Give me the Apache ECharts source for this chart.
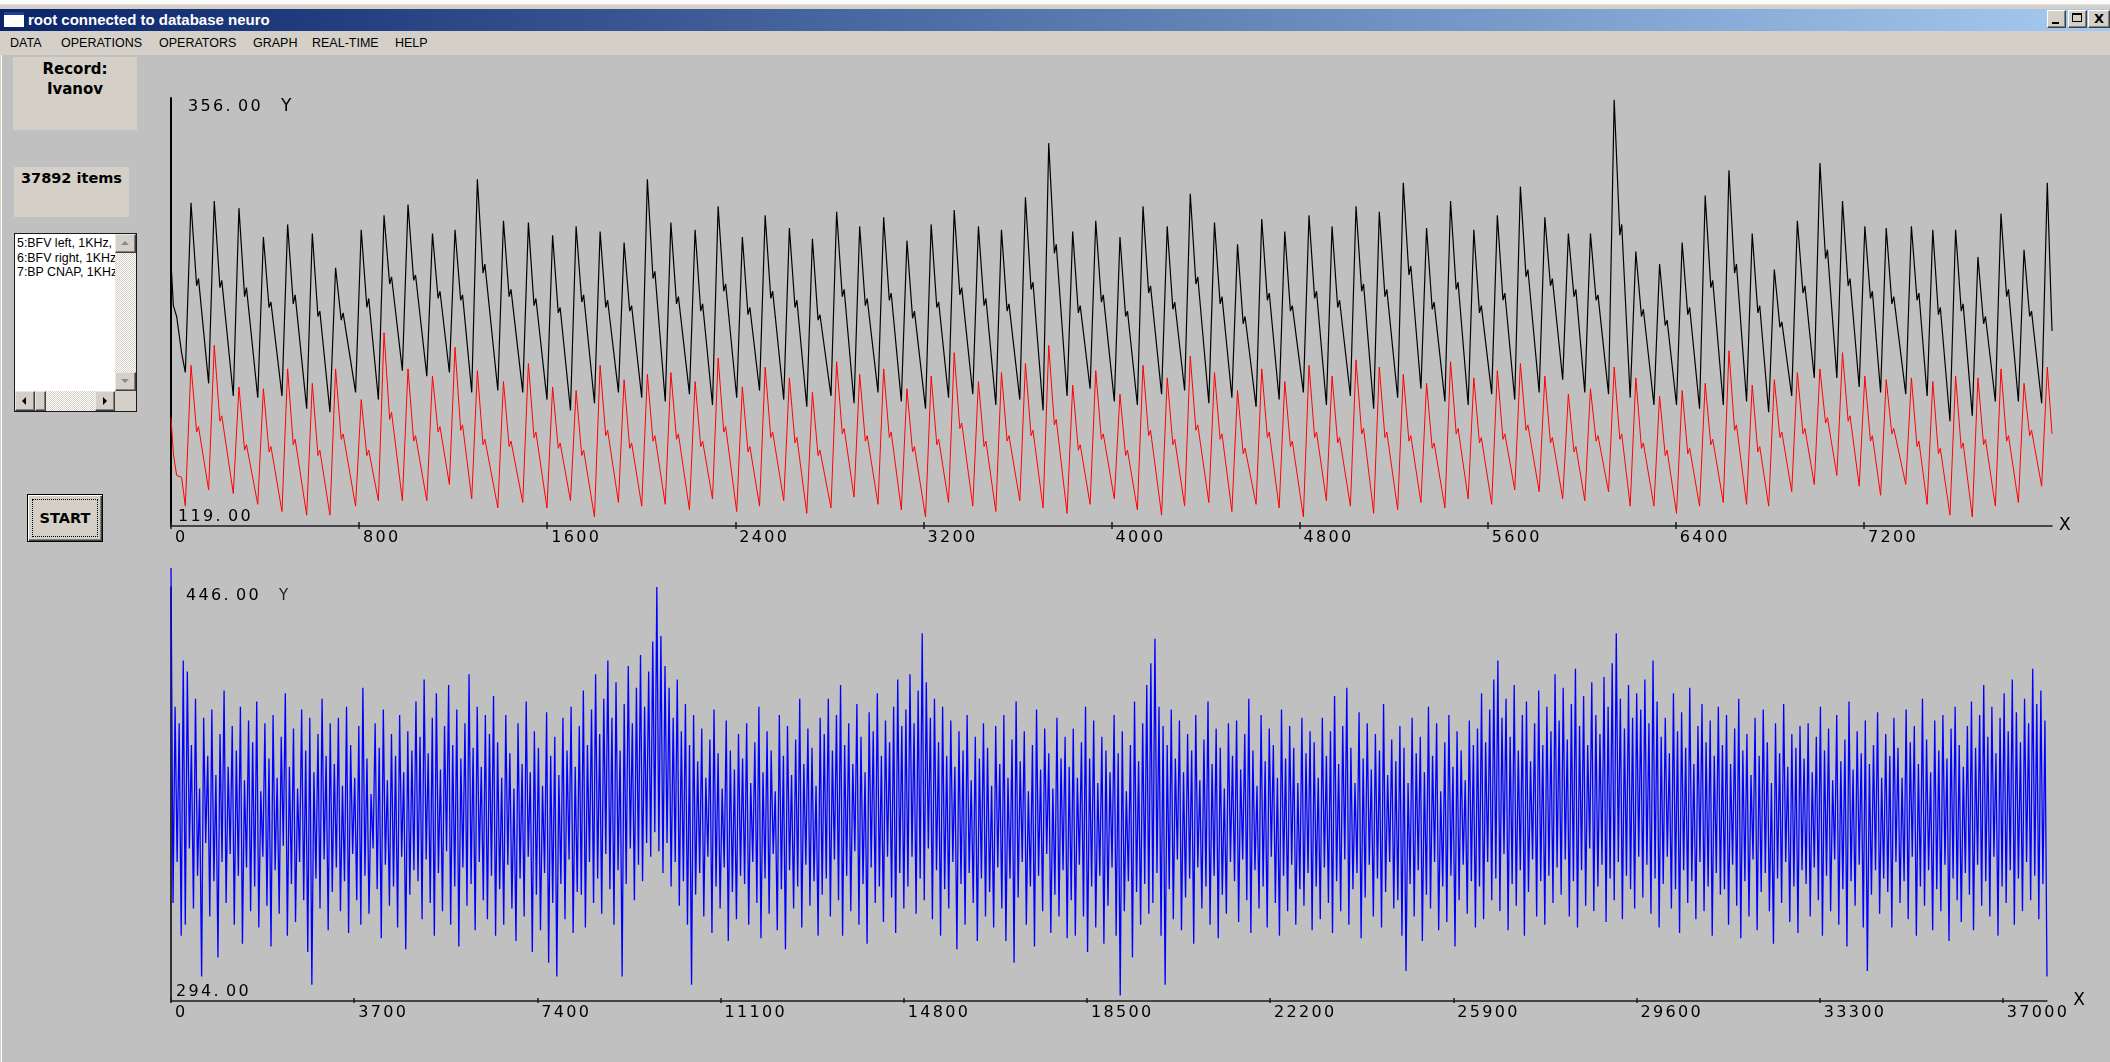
<!DOCTYPE html>
<html>
<head>
<meta charset="utf-8">
<script src="https://cdn.jsdelivr.net/npm/echarts@6/dist/echarts.min.js"></script>
<style>
html,body{margin:0;padding:0;}
body{width:2110px;height:1062px;background:#c0c0c0;position:relative;overflow:hidden;font-family:"Liberation Sans",Arial,sans-serif;}
#chart{position:absolute;left:0;top:0;width:2110px;height:1062px;z-index:1;}
.ui{position:absolute;z-index:2;box-sizing:border-box;}
.frame-top{left:0;top:0;width:2110px;height:9px;background:linear-gradient(#fbfbfb 0,#fbfbfb 4px,#d4d0c8 5px);}
.titlebar{left:0;top:9px;width:2110px;height:22px;background:linear-gradient(to right,#0a246a 0%,#a6caf0 100%);}
.ticon{position:absolute;left:4px;top:3px;width:20px;height:15px;background:#fff;border-top:3px solid #1c3f94;box-sizing:border-box;}
.ttext{position:absolute;left:28px;top:0;font:bold 15px/22px "Liberation Sans",Arial,sans-serif;color:#fff;white-space:nowrap;}
.wbtn{top:10px;height:18px;background:#d4d0c8;border:1px solid;border-color:#fff #404040 #404040 #fff;box-shadow:inset -1px -1px #808080;}
.g-min{position:absolute;left:4px;bottom:3px;width:7px;height:2px;background:#000;}
.g-max{position:absolute;left:3px;top:2px;width:10px;height:9px;border:1px solid #000;border-top-width:2px;box-sizing:border-box;}
.g-x{position:absolute;left:0;top:0;width:100%;text-align:center;font:bold 13px/16px "DejaVu Sans",sans-serif;color:#000;}
.menubar{left:0;top:31px;width:2110px;height:24px;background:#d4d0c8;}
.menubar span{position:absolute;top:0;line-height:24px;font-size:12.5px;color:#000;white-space:nowrap;}
.panel{background:#d4d0c8;text-align:center;font:bold 15px "DejaVu Sans",sans-serif;color:#000;}
.listbox{left:14px;top:233px;width:123px;height:179px;background:#fff;border:1px solid #1a1a1a;overflow:hidden;}
.listbox .txt{position:absolute;left:2px;top:2px;width:98px;overflow:hidden;font-size:12.4px;line-height:14.5px;color:#000;white-space:nowrap;}
.sb{position:absolute;box-sizing:border-box;}
.track{background-color:#fff;background-image:repeating-conic-gradient(#d4d0c8 0 25%,#fff 0 50%);background-size:2px 2px;}
.raised{background:#d4d0c8;border:1px solid;border-color:#e8e6e0 #404040 #404040 #e8e6e0;box-shadow:inset -1px -1px #808080;}
.tri{position:absolute;width:0;height:0;border-style:solid;}
.startbtn{left:27px;top:494px;width:76px;height:48px;background:#d4d0c8;border:1px solid #000;box-shadow:inset 1px 1px #fff,inset -1px -1px #404040,inset -2px -2px #808080;}
.startbtn .focus{position:absolute;left:4px;top:4px;right:4px;bottom:4px;border:1px dotted #000;}
.startbtn .lbl{position:absolute;left:0;top:0;width:100%;text-align:center;font:bold 14.5px/46px "DejaVu Sans",sans-serif;color:#000;}
.leftedge{left:0;top:55px;width:3px;height:1007px;background:linear-gradient(to right,#d4d0c8 0,#d4d0c8 1px,#fff 1px,#fff 2px,#c0c0c0 2px);}
</style>
</head>
<body>
<div class="ui frame-top"></div>
<div class="ui titlebar"><div class="ticon"></div><div class="ttext">root connected to database neuro</div></div>
<div class="ui wbtn" style="left:2047px;width:19px"><div class="g-min"></div></div>
<div class="ui wbtn" style="left:2068px;width:19px"><div class="g-max"></div></div>
<div class="ui wbtn" style="left:2088px;width:22px"><span class="g-x">X</span></div>
<div class="ui menubar">
  <span style="left:10px">DATA</span>
  <span style="left:61px">OPERATIONS</span>
  <span style="left:159px">OPERATORS</span>
  <span style="left:253px">GRAPH</span>
  <span style="left:312px">REAL-TIME</span>
  <span style="left:395px">HELP</span>
</div>
<div class="ui leftedge"></div>
<div class="ui panel" style="left:13px;top:57px;width:124px;height:73px;padding-top:2px;line-height:20px;">Record:<br>Ivanov</div>
<div class="ui panel" style="left:14px;top:167px;width:115px;height:50px;font-size:14.5px;line-height:22px;">37892 items</div>
<div class="ui listbox">
  <div class="txt">5:BFV left, 1KHz,<br>6:BFV right, 1KHz,<br>7:BP CNAP, 1KHz,</div>
  <div class="sb track" style="left:100px;top:0;width:21px;height:157px;"></div>
  <div class="sb raised" style="left:100px;top:0;width:21px;height:19px;"><div class="tri" style="left:5px;top:6px;border-width:0 4px 4px 4px;border-color:transparent transparent #8a8a8a transparent;"></div></div>
  <div class="sb raised" style="left:100px;top:138px;width:21px;height:19px;"><div class="tri" style="left:5px;top:6px;border-width:4px 4px 0 4px;border-color:#8a8a8a transparent transparent transparent;"></div></div>
  <div class="sb track" style="left:0;top:157px;width:100px;height:20px;"></div>
  <div class="sb raised" style="left:0;top:157px;width:20px;height:20px;"><div class="tri" style="left:6px;top:5px;border-width:4px 4px 4px 0;border-color:transparent #000 transparent transparent;"></div></div>
  <div class="sb raised" style="left:20px;top:157px;width:11px;height:20px;"></div>
  <div class="sb raised" style="left:80px;top:157px;width:20px;height:20px;"><div class="tri" style="left:7px;top:5px;border-width:4px 0 4px 4px;border-color:transparent transparent transparent #000;"></div></div>
  <div class="sb" style="left:100px;top:157px;width:21px;height:20px;background:#d4d0c8;"></div>
</div>
<div class="ui startbtn"><div class="focus"></div><div class="lbl">START</div></div>
<div id="chart"></div>
<script>
// ---- axes ----
const topTicks = [0, 800, 1600, 2400, 3200, 4000, 4800, 5600, 6400, 7200];
const bottomTicks = [0, 3700, 7400, 11100, 14800, 18500, 22200, 25900, 29600, 33300, 37000];
const topRange = [119, 356];
const bottomRange = [294, 446];
const topSpan = 8000;
const itemCount = 37892;

// ---- BFV traces (upper plot): one row per heart beat ----
// sample index of each beat foot (diastolic minimum)
const beatOnsets = [
  61,160,265,369,472,577,676,785,882,984,1088,1184,1279,1390,1496,1599,1699,1801,1903,2002,
  2102,2205,2303,2406,2503,2606,2704,2807,2905,3007,3106,3209,3307,3410,3508,3610,3709,3811,3909,4012,
  4110,4213,4311,4414,4512,4615,4713,4816,4914,5016,5115,5217,5316,5418,5517,5617,
  5715,5819,5919,6013,6114,6206,6307,6403,6501,6602,6701,6795,6893,6989,7085,7180,7271,7378,7469,7566,
  7661,7759,7857,7956
];
const RISE = 24;       // samples from foot to systolic peak
const NOTCH_LAG = 24;  // samples from systolic peak to dicrotic notch
const BUMP_LAG = 32;   // samples from systolic peak to the dicrotic wave

const leftTrough = [
  204,198,191,190,191,184,182,193,189,205,202,204,193,194,193,189,183,187,193,190,
  188,192,186,190,194,189,185,191,187,193,188,184,190,192,186,189,183,191,195,188,
  186,192,194,187,190,185,189,193,186,191,184,190,195,188,186,192,
  189,193,200,193,192,190,186,186,184,186,188,182,191,201,201,196,193,192,191,177,
  180,188,188,187
];
const leftPeak = [
  298,299,295,279,286,281,262,283,291,297,281,283,311,288,287,280,285,282,276,311,
  287,283,296,279,291,284,278,293,285,290,277,286,294,285,283,301,331,282,288,279,
  296,285,303,287,275,289,282,291,285,296,293,309,284,299,283,291,
  307,290,281,281,355,271,264,276,302,316,281,261,288,320,299,285,284,285,283,283,
  268,292,272,309
];
const leftNotch = [
  252,251,246,240,242,235,233,240,253,255,245,244,259,246,241,237,243,240,238,256,
  242,238,249,236,245,240,233,246,241,244,234,240,247,241,238,250,270,237,243,235,
  248,239,253,242,231,244,238,245,240,249,246,258,239,250,237,244,
  257,252,246,244,280,235,230,236,251,259,237,229,248,267,252,245,242,244,236,238,
  231,246,235,258
];
const leftBump = [
  256,255,251,243,247,238,237,245,257,258,249,247,264,250,245,240,247,244,241,260,
  246,242,253,240,249,244,236,250,245,248,238,243,251,245,242,254,275,241,247,238,
  252,243,257,246,235,248,241,249,244,253,250,263,243,254,241,248,
  261,256,250,247,286,239,233,240,255,264,241,232,252,272,256,249,246,248,240,242,
  235,250,238,262
];
const rightTrough = [
  130,139,137,131,127,125,125,130,133,133,133,142,134,129,132,129,133,124,132,130,
  131,128,134,127,130,133,126,129,135,131,128,124,132,130,127,133,129,126,131,134,
  128,125,130,132,127,131,129,124,133,130,126,128,132,129,134,131,
  139,138,134,133,138,130,130,126,130,132,131,130,138,142,147,141,136,142,131,125,
  124,130,132,141
];
const rightPeak = [
  208,219,196,195,206,198,206,189,226,206,202,218,205,199,209,196,194,208,200,203,
  204,199,212,196,207,201,193,210,203,206,195,202,215,199,204,209,219,197,205,192,
  208,201,213,204,194,206,199,208,202,211,207,203,198,210,201,205,
  209,202,192,195,207,201,191,194,198,216,197,200,204,206,215,202,200,201,199,202,
  201,206,198,207
];
const rightNotch = [
  171,177,161,160,164,158,167,158,178,166,171,172,164,163,168,162,158,169,162,166,
  167,163,171,160,168,165,158,170,166,168,160,164,173,163,166,169,175,161,167,158,
  169,164,172,167,159,168,163,168,165,170,168,166,162,170,165,167,
  172,165,160,166,167,162,158,159,164,172,160,168,170,176,177,166,170,163,159,162,
  164,166,169,170
];
const rightBump = [
  174,180,164,163,167,161,170,161,182,169,174,175,167,166,171,165,161,172,165,169,
  170,166,174,163,171,168,161,173,169,171,163,167,176,166,169,172,178,164,170,161,
  172,167,175,170,162,171,166,171,168,173,171,169,165,173,168,170,
  175,168,163,169,170,165,161,162,167,175,163,171,173,179,180,169,173,166,162,165,
  167,169,172,173
];
// partial beat before the first foot, and the last sample of the window
const leadInSamples = [0, 10, 24, 45];
const leftLeadIn = [265, 241, 235, 215];
const rightLeadIn = [179, 159, 147, 146];
const leftTail = 227;
const rightTail = 170;

// ---- BP CNAP trace (lower plot): successive turning points over the whole record ----
const cnapTurns = [
  453,330,402,345,396,318,419,322,415,350,388,328,405,340,372,303,398,352,384,325,401,338,377,310,392,345,408,330,380,348,395,322,386,340,402,315,375,343,397,327,
  389,336,404,321,371,347,396,329,383,314,399,342,376,326,391,351,407,318,380,337,394,323,372,345,401,331,386,312,398,300,378,339,392,328,405,346,384,320,396,334,
  381,343,398,327,373,338,402,319,388,348,376,331,395,322,409,340,383,326,370,350,396,335,387,317,401,344,375,329,392,336,384,321,399,347,378,313,393,333,386,342,
  404,338,391,324,412,346,385,330,398,318,407,341,379,327,395,349,410,322,388,336,401,314,383,343,396,329,414,337,387,320,402,345,380,331,399,324,392,340,406,318,
  389,335,376,322,399,344,385,328,372,316,396,339,381,325,404,347,378,312,393,333,387,320,373,341,400,308,384,330,391,303,377,337,398,324,386,346,402,319,380,334,
  395,333,408,321,388,345,401,330,414,339,392,326,405,348,419,335,398,322,411,342,386,303,403,337,417,350,396,331,409,344,421,338,402,352,415,347,426,356,446,349,
  428,341,417,352,409,336,398,345,412,329,393,338,403,322,388,300,399,333,382,341,394,325,376,347,390,319,401,336,385,328,372,343,397,316,386,334,379,324,392,340,
  383,337,396,322,374,345,389,330,402,317,378,339,393,326,386,348,371,320,399,335,384,313,395,342,377,328,390,336,405,321,381,344,394,329,387,338,373,318,398,333,
  392,339,405,325,386,346,399,331,410,318,388,340,396,327,381,349,403,322,391,337,378,315,400,343,393,330,407,336,384,323,397,347,389,332,402,319,412,341,395,328,
  401,336,414,347,396,326,408,339,429,331,411,350,398,324,405,342,389,318,402,335,384,328,397,345,380,313,393,337,386,322,399,341,375,330,391,316,383,339,396,325,
  387,334,373,321,395,343,381,328,399,316,376,339,390,308,404,332,382,345,393,322,371,336,388,314,401,340,379,327,394,348,385,319,372,333,398,325,383,342,391,317,
  380,331,394,318,376,344,389,325,402,312,383,336,397,321,374,340,391,315,386,329,378,343,399,318,385,296,393,327,371,338,388,310,404,334,382,322,396,337,410,326,
  418,330,427,341,402,318,395,300,388,335,401,324,383,346,397,320,378,332,392,339,386,315,399,343,375,328,390,336,404,322,381,340,394,317,387,333,372,326,396,345,
  384,338,397,323,379,346,392,331,405,319,386,342,373,328,399,336,382,321,394,347,388,330,376,318,401,340,383,327,395,344,387,322,374,335,398,329,385,341,393,320,
  389,336,376,324,398,343,384,330,393,319,406,338,381,327,395,346,409,322,387,335,374,341,400,317,383,332,396,344,379,325,392,339,386,321,403,334,377,345,390,328,
  382,331,395,318,387,305,374,337,398,325,385,342,391,316,378,333,402,328,384,345,396,320,371,336,389,323,399,340,380,314,393,331,386,344,375,326,397,338,388,321,
  394,336,407,324,389,345,401,331,412,339,419,327,398,348,405,320,391,337,410,329,386,342,399,318,404,334,382,346,396,325,408,338,388,322,402,340,393,330,414,343,
  397,333,409,346,390,325,403,338,416,321,395,342,406,329,388,350,411,327,399,336,392,344,413,323,402,339,418,331,429,345,405,324,394,340,410,335,398,328,407,347,
  401,332,412,344,396,326,419,339,404,321,391,337,398,347,385,328,407,335,393,319,400,342,387,330,409,338,381,324,395,345,403,327,389,336,397,318,384,341,402,333,
  388,335,399,322,381,344,394,329,405,317,386,338,392,325,377,346,398,320,384,334,401,341,389,327,374,315,396,339,385,330,403,345,380,323,392,336,387,319,395,342,
  383,337,396,325,378,343,391,331,402,318,386,340,394,327,375,346,399,322,382,335,390,314,404,338,379,329,393,344,385,321,397,305,381,333,388,342,400,326,376,339,
  392,334,384,321,398,345,387,330,376,338,401,324,389,347,395,318,381,336,405,329,390,342,378,320,397,335,386,327,399,344,383,316,394,339,402,331,388,323,380,341,
  395,333,404,320,387,344,399,329,410,338,391,325,402,347,385,318,398,336,407,330,393,342,412,322,400,339,389,327,405,345,396,331,416,340,403,324,408,337,397,303
];

// ---- build line data ----
function beatTrace(trough, peak, notch, bump, leadIn, tail) {
  const pts = leadInSamples.map((s, i) => [s, leadIn[i]]);
  const last = beatOnsets.length - 1;
  beatOnsets.forEach((t, i) => {
    const tp = t + RISE;
    pts.push([t, trough[i]]);
    pts.push([tp, peak[i]]);
    if (i < last) {
      pts.push([tp + NOTCH_LAG, notch[i]]);
      pts.push([tp + BUMP_LAG, bump[i]]);
    }
  });
  pts.push([topSpan, tail]);
  return pts;
}
const leftData = beatTrace(leftTrough, leftPeak, leftNotch, leftBump, leftLeadIn, leftTail);
const rightData = beatTrace(rightTrough, rightPeak, rightNotch, rightBump, rightLeadIn, rightTail);
const cnapData = cnapTurns.map((v, i) => [i * itemCount / (cnapTurns.length - 1), v]);

// ---- label helpers: wide, evenly spaced glyphs like the instrument font ----
const GLYPH = { width: 12.5, fontSize: 16, fontFamily: 'DejaVu Sans', color: '#000', lineHeight: 18 };
function wide(str, style) {
  return str.split('').map(ch => '{' + style + '|' + ch + '}').join('');
}
const tickRich = { t: GLYPH, s: { width: 4, lineHeight: 18 } };

function xMain(grid, span, ticks, outLen, nameGap) {
  return {
    type: 'value', gridIndex: grid, min: 0, max: span, position: 'bottom',
    axisLine: { show: true, onZero: false, lineStyle: { color: '#1c1c1c', width: 1.5 } },
    axisTick: { show: true, inside: false, length: outLen, customValues: ticks, lineStyle: { color: '#1c1c1c', width: 1.5 } },
    axisLabel: {
      show: true, customValues: ticks, align: 'left', margin: 3, hideOverlap: false,
      formatter: v => '{s| }' + wide(String(v), 't'), rich: tickRich
    },
    splitLine: { show: false },
    name: 'X', nameLocation: 'end', nameGap: nameGap,
    nameTextStyle: { fontFamily: 'DejaVu Sans', fontSize: 17, color: '#000', align: 'left', verticalAlign: 'middle' }
  };
}
function xInner(grid, span, ticks, inLen) {
  return {
    type: 'value', gridIndex: grid, min: 0, max: span, position: 'bottom',
    axisLine: { show: false, onZero: false },
    axisTick: { show: true, inside: true, length: inLen, customValues: ticks, lineStyle: { color: '#1c1c1c', width: 1.5 } },
    axisLabel: { show: false },
    splitLine: { show: false }
  };
}
function yMain(grid, range, lineW, margin, yColor, ySize) {
  const rich = {
    v: GLYPH,
    sp: { width: 10, lineHeight: 18 },
    gy: { width: 18, lineHeight: 18 },
    y: { fontFamily: 'DejaVu Sans', fontSize: ySize, color: yColor, lineHeight: 18 }
  };
  return {
    type: 'value', gridIndex: grid, min: range[0], max: range[1],
    axisLine: { show: true, onZero: false, lineStyle: { color: '#000', width: lineW } },
    axisTick: { show: false },
    splitLine: { show: false },
    axisLabel: {
      show: true, inside: true, margin: margin, customValues: range, lineHeight: 18, hideOverlap: false,
      formatter: v => v === range[1]
        ? '\n{sp| }' + wide(v.toFixed(2), 'v') + '{gy| }{y|Y}'
        : wide(v.toFixed(2), 'v') + '\n',
      rich: rich
    }
  };
}

const chart = echarts.init(document.getElementById('chart'), null, { width: 2110, height: 1062, renderer: 'canvas' });
chart.setOption({
  animation: false,
  backgroundColor: 'transparent',
  grid: [
    { left: 171, right: 58, top: 98, height: 428, outerBoundsMode: 'none' },
    { left: 171, right: 63, top: 587, height: 414, outerBoundsMode: 'none' }
  ],
  xAxis: [
    xMain(0, topSpan, topTicks, 3, 7),
    xInner(0, topSpan, topTicks, 4),
    xMain(1, itemCount, bottomTicks, 2, 6),
    xInner(1, itemCount, bottomTicks, 3)
  ],
  yAxis: [
    yMain(0, topRange, 2, 7, '#000', 17),
    yMain(1, bottomRange, 1.5, 5, '#222', 15)
  ],
  series: [
    { type: 'line', name: 'BFV left', xAxisIndex: 0, yAxisIndex: 0, data: leftData,
      symbol: 'none', silent: true, lineStyle: { color: '#000000', width: 1.2 } },
    { type: 'line', name: 'BFV right', xAxisIndex: 0, yAxisIndex: 0, data: rightData,
      symbol: 'none', silent: true, lineStyle: { color: '#ff0000', width: 1 } },
    { type: 'line', name: 'BP CNAP', xAxisIndex: 2, yAxisIndex: 1, data: cnapData, clip: false,
      symbol: 'none', silent: true, lineStyle: { color: '#0000ff', width: 1.3 } }
  ]
});
</script>
</body>
</html>
